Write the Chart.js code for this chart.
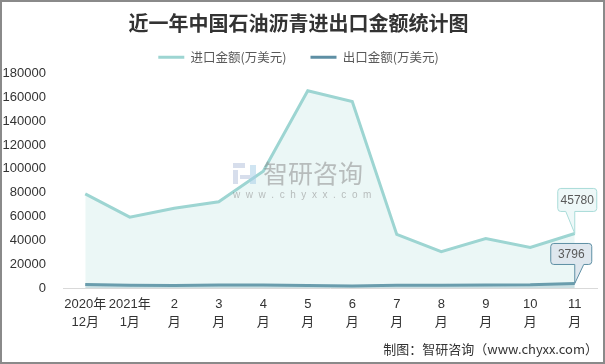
<!DOCTYPE html>
<html>
<head>
<meta charset="utf-8">
<script src="https://cdn.jsdelivr.net/npm/chart.js@4/dist/chart.umd.min.js"></script>
<style>
  html, body { margin: 0; padding: 0; background: #fff; }
  #wrap { width: 605px; height: 364px; position: relative; }
</style>
</head>
<body>
<div id="wrap"><canvas id="chart" width="605" height="364"></canvas></div>
<script>
const months = [
    ['2020年', '12月'], ['2021年', '1月'], ['2', '月'], ['3', '月'], ['4', '月'], ['5', '月'],
    ['6', '月'], ['7', '月'], ['8', '月'], ['9', '月'], ['10', '月'], ['11', '月']
];
const importValues = [79000, 59500, 67000, 72300, 98000, 165500, 156500, 45000, 30500, 41500, 34000, 45780];
const exportValues = [2900, 2300, 2200, 2600, 2500, 2100, 1700, 2400, 2300, 2500, 2700, 3796];
const titleText = '近一年中国石油沥青进出口金额统计图';
const importLabel = '进口金额(万美元)';
const exportLabel = '出口金额(万美元)';
const sourceText = '制图：智研咨询（www.chyxx.com）';

const FONT = '"Liberation Sans", "Noto Sans CJK SC", sans-serif';
const importColor = '#9dd5d2';
const exportColor = '#5e8fa4';

// callout boxes for the last point of each line, plus watermark / footer / frame
const extras = {
    id: 'extras',
    afterDatasetsDraw(chart) {
        const ctx = chart.ctx;
        ctx.save();
        ctx.globalAlpha = 0.55;
        ctx.fillStyle = '#8c8c8c';
        ctx.font = '25px "Noto Sans CJK SC", sans-serif';
        ctx.textBaseline = 'middle';
        ctx.fillText('智研咨询', 263, 173);
        ctx.font = '10px ' + FONT;
        ctx.fillText('w  w  w  .  c  h  y  x  x  .  c  o  m', 233, 195);
        ctx.fillStyle = '#b7c2dc';
        ctx.fillRect(233, 163, 12, 5);
        ctx.fillRect(233, 170, 5, 14);
        ctx.fillRect(240, 175, 10, 4);
        ctx.fillStyle = '#a9d0e8';
        ctx.fillRect(250, 165, 6, 19);
        ctx.restore();

        drawCallout(chart, 0, importValues, {
            dx1: -17, dx2: 22, dy1: -45, dy2: -22, tip1: -9, tip2: 0,
            fill: '#eef8f8', stroke: '#a9dcd9'
        });
        drawCallout(chart, 1, exportValues, {
            dx1: -24, dx2: 17, dy1: -40, dy2: -19, tip1: 0, tip2: 9,
            fill: '#dfe7ee', stroke: '#5e8fa4'
        });
    },
    afterDraw(chart) {
        const ctx = chart.ctx;
        ctx.save();
        ctx.fillStyle = '#333';
        ctx.font = '13px "Noto Sans CJK SC", sans-serif';
        ctx.textAlign = 'right';
        ctx.textBaseline = 'middle';
        ctx.fillText(sourceText, 598, 349);
        ctx.strokeStyle = '#8a8a8a';
        ctx.lineWidth = 2;
        ctx.strokeRect(1, 1, chart.width - 2, chart.height - 2);
        ctx.restore();
    }
};

function drawCallout(chart, dsIndex, values, o) {
    const meta = chart.getDatasetMeta(dsIndex);
    const last = values.length - 1;
    const pt = meta.data[last];
    const ctx = chart.ctx;
    const x1 = pt.x + o.dx1, x2 = pt.x + o.dx2, y1 = pt.y + o.dy1, y2 = pt.y + o.dy2;
    const r = 3;
    ctx.save();
    ctx.beginPath();
    ctx.moveTo(x1 + r, y1);
    ctx.lineTo(x2 - r, y1);
    ctx.quadraticCurveTo(x2, y1, x2, y1 + r);
    ctx.lineTo(x2, y2 - r);
    ctx.quadraticCurveTo(x2, y2, x2 - r, y2);
    ctx.lineTo(pt.x + o.tip2, y2);
    ctx.lineTo(pt.x, pt.y);
    ctx.lineTo(pt.x + o.tip1, y2);
    ctx.lineTo(x1 + r, y2);
    ctx.quadraticCurveTo(x1, y2, x1, y2 - r);
    ctx.lineTo(x1, y1 + r);
    ctx.quadraticCurveTo(x1, y1, x1 + r, y1);
    ctx.closePath();
    ctx.fillStyle = o.fill;
    ctx.fill();
    ctx.strokeStyle = o.stroke;
    ctx.lineWidth = 1;
    ctx.stroke();
    ctx.fillStyle = '#595959';
    ctx.font = '12px ' + FONT;
    ctx.textAlign = 'center';
    ctx.textBaseline = 'middle';
    ctx.fillText(String(values[last]), (x1 + x2) / 2, (y1 + y2) / 2 + 1);
    ctx.restore();
}

new Chart(document.getElementById('chart'), {
    type: 'line',
    data: {
        labels: months,
        datasets: [
            {
                label: importLabel,
                data: importValues,
                borderColor: importColor,
                backgroundColor: 'rgba(157,213,210,0.2)',
                borderWidth: 3,
                pointRadius: 0,
                tension: 0,
                fill: 'origin'
            },
            {
                label: exportLabel,
                data: exportValues,
                borderColor: exportColor,
                backgroundColor: 'rgba(94,143,164,0.25)',
                borderWidth: 3,
                pointRadius: 0,
                tension: 0,
                fill: 'origin'
            }
        ]
    },
    options: {
        responsive: false,
        animation: false,
        layout: { padding: { left: 0, right: 8, top: 0, bottom: 0 } },
        plugins: {
            title: {
                display: true,
                text: titleText,
                color: '#333',
                font: { family: '"Noto Sans CJK SC", sans-serif', size: 20, weight: 'bold' },
                padding: { top: 11, bottom: -8 }
            },
            legend: {
                display: true,
                labels: {
                    usePointStyle: true,
                    pointStyle: 'line',
                    pointStyleWidth: 26,
                    color: '#595959',
                    font: { family: '"Noto Sans CJK SC", sans-serif', size: 12.5 },
                    padding: 24
                }
            },
            tooltip: { enabled: false }
        },
        scales: {
            x: {
                offset: true,
                grid: { display: false, drawTicks: false },
                border: { display: true, color: '#d9d9d9', width: 1 },
                ticks: {
                    color: '#333',
                    font: { family: FONT, size: 13, lineHeight: 1.4 },
                    padding: 7,
                    maxRotation: 0,
                    autoSkip: false
                },
                afterFit: s => { s.height = 76; }
            },
            y: {
                min: 0,
                max: 180000,
                grid: { display: false, drawTicks: false },
                border: { display: false },
                ticks: {
                    stepSize: 20000,
                    color: '#333',
                    font: { family: FONT, size: 13 },
                    padding: 17,
                    callback: v => String(v)
                },
                afterFit: s => { s.width = 63; }
            }
        }
    },
    plugins: [extras]
});
</script>
</body>
</html>
